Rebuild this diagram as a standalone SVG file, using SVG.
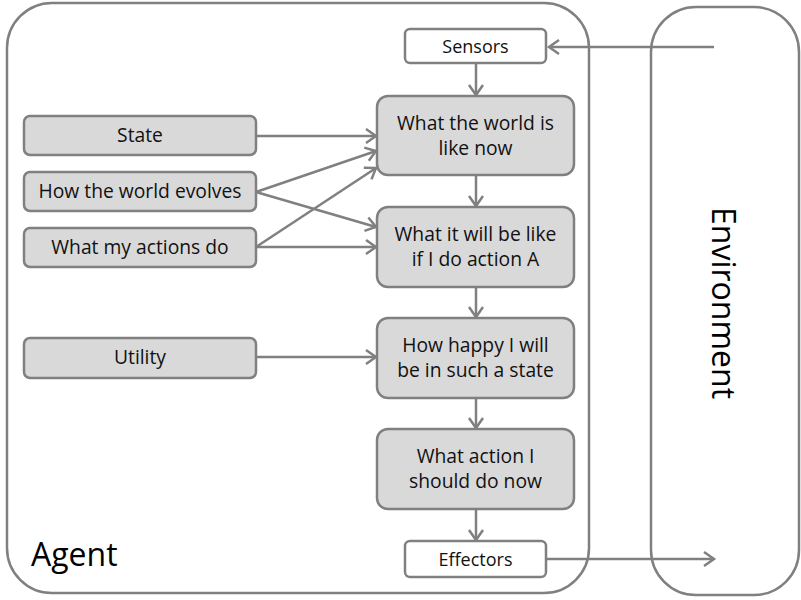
<svg xmlns="http://www.w3.org/2000/svg" width="801" height="600" viewBox="0 0 801 600">
<style>
.frame{fill:#fff;stroke:#808080;stroke-width:2.5}
.box{fill:#d9d9d9;stroke:#808080;stroke-width:2.5}
.wbox{fill:#fff;stroke:#808080;stroke-width:2.5}
.t{font-family:"Open Sans","Liberation Sans",sans-serif;font-size:19.3px;fill:#111;text-anchor:middle}
.s{font-size:18px}
.big{font-family:"Open Sans","Liberation Sans",sans-serif;font-size:32px;fill:#000}
.c{stroke:#808080;stroke-width:2.5;fill:none;marker-end:url(#ah)}
</style>
<defs>
<marker id="ah" markerUnits="userSpaceOnUse" markerWidth="16" markerHeight="18" refX="12" refY="8" orient="auto" viewBox="0 0 16 16">
<path d="M2,1 L12,8 L2,15" fill="none" stroke="#808080" stroke-width="2.5"/>
</marker>
</defs>
<g id="agent">
<rect class="frame" x="7" y="3" width="582" height="590" rx="45"/>
<text class="big" x="31" y="566">Agent</text>
</g>
<g id="environment">
<rect class="frame" x="651" y="7" width="148" height="588" rx="45"/>
<text class="big" text-anchor="middle" transform="translate(712,303) rotate(90)">Environment</text>
</g>
<g id="connectors">
<line class="c" x1="714" y1="47" x2="549" y2="47"/>
<line class="c" x1="476" y1="63" x2="476" y2="95"/>
<line class="c" x1="476" y1="175" x2="476" y2="206"/>
<line class="c" x1="476" y1="287" x2="476" y2="317"/>
<line class="c" x1="476" y1="398" x2="476" y2="428"/>
<line class="c" x1="476" y1="509" x2="476" y2="540"/>
<line class="c" x1="546" y1="559" x2="714" y2="559"/>
<line class="c" x1="256" y1="136" x2="376" y2="136"/>
<line class="c" x1="256" y1="192" x2="376" y2="151"/>
<line class="c" x1="256" y1="192" x2="376" y2="227"/>
<line class="c" x1="256" y1="247" x2="376" y2="168"/>
<line class="c" x1="256" y1="247" x2="376" y2="247"/>
<line class="c" x1="256" y1="357" x2="376" y2="357"/>
</g>
<g id="sensors">
<rect class="wbox" x="405" y="29" width="141" height="34" rx="5"/>
<text class="t s" x="475.5" y="53">Sensors</text>
</g>
<g id="world-now">
<rect class="box" x="377" y="96" width="197" height="79" rx="11"/>
<text class="t" x="475.5" y="130">What the world is</text>
<text class="t" x="475.5" y="155">like now</text>
</g>
<g id="will-be">
<rect class="box" x="377" y="207" width="197" height="80" rx="11"/>
<text class="t" x="475.5" y="241">What it will be like</text>
<text class="t" x="475.5" y="266">if I do action A</text>
</g>
<g id="happy">
<rect class="box" x="377" y="318" width="197" height="80" rx="11"/>
<text class="t" x="475.5" y="352">How happy I will</text>
<text class="t" x="475.5" y="377">be in such a state</text>
</g>
<g id="action">
<rect class="box" x="377" y="429" width="197" height="80" rx="11"/>
<text class="t" x="475.5" y="463">What action I</text>
<text class="t" x="475.5" y="488">should do now</text>
</g>
<g id="effectors">
<rect class="wbox" x="405" y="541" width="141" height="36" rx="5"/>
<text class="t s" x="475.5" y="566">Effectors</text>
</g>
<g id="state">
<rect class="box" x="24" y="116" width="232" height="39" rx="6"/>
<text class="t" x="140" y="142">State</text>
</g>
<g id="evolves">
<rect class="box" x="24" y="172" width="232" height="39" rx="6"/>
<text class="t" x="140" y="198">How the world evolves</text>
</g>
<g id="actions-do">
<rect class="box" x="24" y="228" width="232" height="39" rx="6"/>
<text class="t" x="140" y="254">What my actions do</text>
</g>
<g id="utility">
<rect class="box" x="24" y="338" width="232" height="40" rx="6"/>
<text class="t" x="140" y="364">Utility</text>
</g>
</svg>
